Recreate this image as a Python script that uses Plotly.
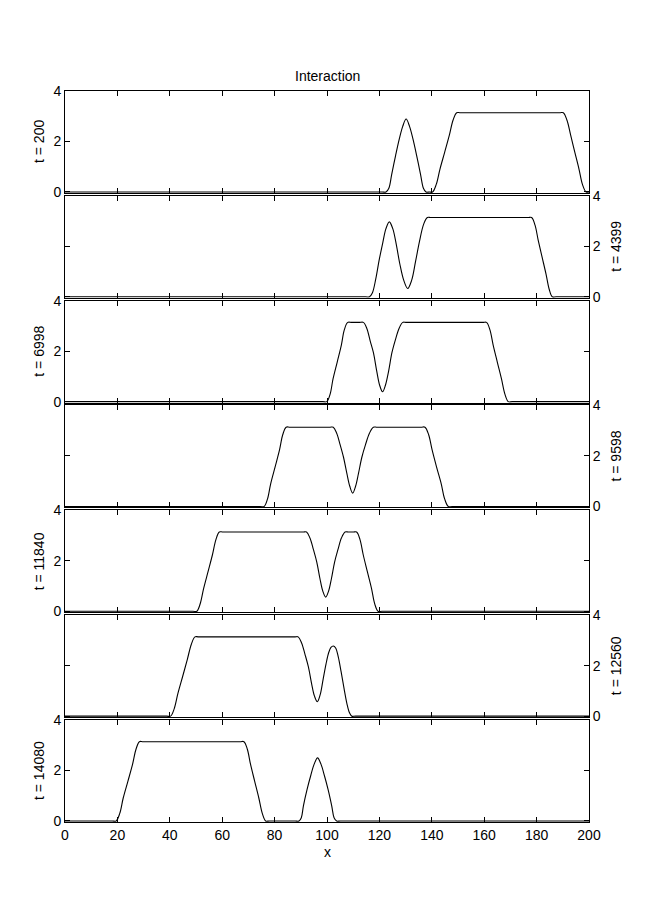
import plotly.graph_objects as go

# values, one list pair per panel
t_labels = ["t = 200", "t = 4399", "t = 6998", "t = 9598", "t = 11840", "t = 12560", "t = 14080"]
x_ticks = [0, 20, 40, 60, 80, 100, 120, 140, 160, 180, 200]
y_ticks = [0, 2, 4]

x_200 = [0, 121, 122.5, 123.6, 124.7, 126.2, 127.6, 128.9, 130.2, 131.5, 132.8, 134.2, 135.7, 136.8,
         137.8, 139, 140.3, 141.7, 143.1, 144.9, 146.7, 148.1, 149.5, 151,
         188.7, 190.2, 191.6, 193, 194.6, 196.2, 197.5, 198.9, 200]
y_200 = [0, 0, 0, 0.15, 0.7, 1.45, 2.1, 2.6, 2.89, 2.6, 2.1, 1.45, 0.7, 0.15,
         0, 0, 0, 0.3, 0.9, 1.57, 2.25, 2.84, 3.14, 3.14,
         3.14, 3.14, 2.84, 2.25, 1.57, 0.9, 0.3, 0, 0]

x_4399 = [0, 114.7, 116.2, 117.3, 118.6, 119.9, 121.3, 122.5, 123.8, 125.1, 126.4, 127.8, 129.3,
          130.8, 132.3, 133.8, 135.3, 136.9, 138.3, 139.8,
          176.6, 178.1, 179.4, 180.6, 182.1, 183.6, 184.8, 186, 187.5, 200]
y_4399 = [0, 0, 0, 0.15, 0.7, 1.45, 2.15, 2.7, 2.97, 2.7, 2.1, 1.3, 0.65,
          0.33, 0.65, 1.4, 2.2, 2.88, 3.14, 3.14,
          3.14, 3.14, 2.84, 2.25, 1.57, 0.9, 0.3, 0, 0, 0]

x_6998 = [0, 98.4, 99.9, 101.2, 102.3, 103.9, 105.5, 106.6, 107.9, 109.4, 112.4, 113.9,
          115.2, 116.5, 117.7, 119, 120.1, 121.2, 122.3, 123.5, 124.8, 126.1, 127.5, 128.9, 130.4,
          159.4, 160.9, 162.2, 163.4, 165, 166.6, 167.9, 169.2, 170.7, 200]
y_6998 = [0, 0, 0, 0.3, 0.9, 1.57, 2.25, 2.84, 3.14, 3.14, 3.14, 3.14,
          2.9, 2.4, 1.95, 1.2, 0.65, 0.39, 0.65, 1.2, 1.95, 2.45, 2.9, 3.14, 3.14,
          3.14, 3.14, 2.84, 2.25, 1.57, 0.9, 0.3, 0, 0, 0]

x_9598 = [0, 74.5, 76, 77.3, 78.5, 80.2, 81.9, 83.1, 84.4, 85.9, 100.9, 102.4,
          103.7, 105, 106.3, 107.6, 108.7, 109.8, 110.9, 112, 113.3, 114.7, 116.2, 117.7, 119.2,
          135.9, 137.4, 138.8, 140.1, 141.8, 143.6, 144.9, 146.3, 147.8, 200]
y_9598 = [0, 0, 0, 0.3, 0.9, 1.57, 2.25, 2.84, 3.14, 3.14, 3.14, 3.14,
          2.9, 2.45, 1.95, 1.3, 0.8, 0.53, 0.8, 1.3, 1.95, 2.45, 2.9, 3.14, 3.14,
          3.14, 3.14, 2.84, 2.25, 1.57, 0.9, 0.3, 0, 0, 0]

x_11840 = [0, 48.8, 50.3, 51.6, 52.9, 54.6, 56.3, 57.6, 58.9, 60.4, 90.7, 92.2,
           93.5, 94.8, 96.1, 97.3, 98.4, 99.5, 100.6, 101.7, 102.9, 104.2, 105.5, 106.9, 108.1,
           110.1, 111.3, 112.6, 113.8, 115.4, 117, 118.2, 119.5, 121, 200]
y_11840 = [0, 0, 0, 0.3, 0.9, 1.57, 2.25, 2.84, 3.14, 3.14, 3.14, 3.14,
           2.9, 2.45, 1.95, 1.3, 0.8, 0.56, 0.8, 1.3, 1.95, 2.45, 2.9, 3.14, 3.14,
           3.14, 3.14, 2.84, 2.25, 1.57, 0.9, 0.3, 0, 0, 0]

x_12560 = [0, 38.8, 40.3, 41.7, 43.1, 44.9, 46.7, 48.2, 49.6, 51.1, 87.5, 89,
           90.3, 91.6, 92.9, 94.1, 95.2, 96.3, 97.4, 98.5, 99.6, 100.6, 101.5, 102.4,
           103.3, 104.3, 105.4, 106.5, 107.6, 108.6, 109.5, 111, 200]
y_12560 = [0, 0, 0, 0.3, 0.9, 1.57, 2.25, 2.84, 3.14, 3.14, 3.14, 3.14,
           2.9, 2.45, 1.95, 1.3, 0.8, 0.57, 0.85, 1.45, 2.05, 2.5, 2.72, 2.78,
           2.7, 2.35, 1.75, 1.1, 0.5, 0.13, 0, 0, 0]

x_14080 = [0, 18, 19.5, 20.9, 22.2, 24, 25.8, 27.1, 28.4, 29.9, 66.8, 68.3,
           69.6, 70.8, 72.4, 74, 75.3, 76.6, 78.1, 87.8, 89.3,
           90.2, 91, 92.4, 93.8, 95.1, 96.4, 97.7, 99, 100.4, 101.8, 102.7, 103.7, 105.2, 200]
y_14080 = [0, 0, 0, 0.3, 0.9, 1.57, 2.25, 2.84, 3.14, 3.14, 3.14, 3.14,
           2.84, 2.25, 1.57, 0.9, 0.3, 0, 0, 0, 0,
           0.13, 0.6, 1.25, 1.8, 2.25, 2.5, 2.25, 1.8, 1.25, 0.6, 0.13, 0, 0, 0]

panels = [(x_200, y_200), (x_4399, y_4399), (x_6998, y_6998), (x_9598, y_9598),
          (x_11840, y_11840), (x_12560, y_12560), (x_14080, y_14080)]

W, H = 654, 918
OFF = 8  # page body margin
LEFT, RIGHT = 65 - OFF, 589 - OFF
TOP0, STEP, PH = 91 - OFF, 104.83, 102
FONT = "Liberation Sans, Arial, sans-serif"

fig = go.Figure()
layout = {}
annotations = []

for i, (xs, ys) in enumerate(panels):
    n = i + 1
    sfx = "" if n == 1 else str(n)
    fig.add_trace(go.Scatter(
        x=xs, y=ys, mode="lines",
        line=dict(color="black", width=1.1, shape="spline", smoothing=1.0),
        xaxis="x" + sfx, yaxis="y" + sfx, showlegend=False, hoverinfo="skip"
    ))
    top = TOP0 + i * STEP
    bot = top + PH
    dom_y = [1 - bot / H, 1 - top / H]
    last = n == len(panels)
    layout["xaxis" + sfx] = dict(
        domain=[LEFT / W, RIGHT / W], range=[0, 200], anchor="y" + sfx,
        tickvals=x_ticks, showticklabels=last, automargin=False,
        ticks="inside", ticklen=5, tickcolor="black", tickwidth=1,
        showline=True, linecolor="black", linewidth=1, mirror="ticks",
        showgrid=False, zeroline=False,
        tickfont=dict(size=14, color="black", family=FONT),
    )
    side = "left" if i % 2 == 0 else "right"
    layout["yaxis" + sfx] = dict(
        domain=dom_y, range=[-0.04, 4], anchor="x" + sfx, side=side,
        tickvals=y_ticks, automargin=False,
        ticks="inside", ticklen=5, tickcolor="black", tickwidth=1,
        showline=True, linecolor="black", linewidth=1, mirror="ticks",
        showgrid=False, zeroline=False,
        tickfont=dict(size=14, color="black", family=FONT),
    )
    annotations.append(dict(
        text=t_labels[i], xref="paper", yref="paper",
        x=((39 if side == "left" else 616) - OFF) / W, y=(dom_y[0] + dom_y[1]) / 2,
        xanchor="center", yanchor="middle", textangle=-90, showarrow=False,
        font=dict(size=14, color="black", family=FONT),
    ))

annotations.append(dict(
    text="Interaction", xref="paper", yref="paper", x=(327 - OFF) / W, y=1 - (76 - OFF) / H,
    xanchor="center", yanchor="middle", showarrow=False,
    font=dict(size=14, color="black", family=FONT),
))
annotations.append(dict(
    text="x", xref="paper", yref="paper", x=(327 - OFF) / W, y=1 - (852 - OFF) / H,
    xanchor="center", yanchor="middle", showarrow=False,
    font=dict(size=14, color="black", family=FONT),
))

fig.update_layout(
    width=W, height=H,
    margin=dict(l=0, r=0, t=0, b=0),
    paper_bgcolor="white", plot_bgcolor="white",
    annotations=annotations,
    **layout
)

fig.write_html("out.html")
